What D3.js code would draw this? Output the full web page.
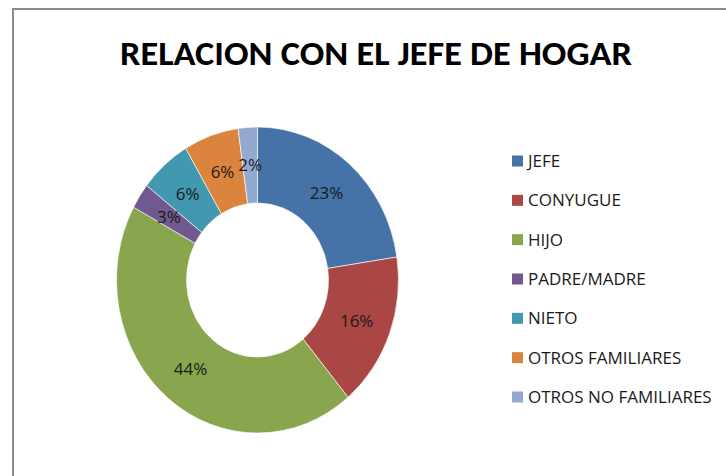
<!DOCTYPE html>
<html>
<head>
<meta charset="utf-8">
<script src="https://cdn.jsdelivr.net/npm/d3@7"></script>
<style>
  body { margin: 0; background: #fff; }
  text { font-family: "Open Sans", "Noto Sans", sans-serif; }
  .ttl { font-family: Carlito, "Open Sans", Lato, sans-serif; }
</style>
</head>
<body>
<svg id="chart"></svg>
<script>
// data
const categories = ["JEFE", "CONYUGUE", "HIJO", "PADRE/MADRE", "NIETO", "OTROS FAMILIARES", "OTROS NO FAMILIARES"];
const shares = [22.6, 16.3, 44.0, 2.7, 5.9, 6.3, 2.2];
const colors = ["#4572a7", "#aa4643", "#89a54e", "#71588f", "#4198af", "#db843d", "#93a9cf"];
const title = "RELACION CON EL JEFE DE HOGAR";

const W = 726, H = 476;
const svg = d3.select("#chart").attr("width", W).attr("height", H);

svg.append("rect").attr("width", W).attr("height", H).attr("fill", "#fff");

// chart frame (cut off at right and bottom)
svg.append("path")
    .attr("d", "M13,480 L13,9 L730,9")
    .attr("fill", "none")
    .attr("stroke", "#8c8c8c")
    .attr("stroke-width", 2);

svg.append("text")
    .attr("class", "ttl")
    .attr("x", 376).attr("y", 65)
    .attr("text-anchor", "middle")
    .attr("font-size", 34)
    .attr("font-weight", "bold")
    .attr("fill", "#000")
    .attr("textLength", 512)
    .attr("lengthAdjust", "spacingAndGlyphs")
    .text(title);

// donut, slightly taller than wide as in the picture
const cx = 257.5, cy = 280, rOut = 141, rIn = 71, sy = 153 / 141;

const pie = d3.pie().sort(null).value(d => d);
const arcs = pie(shares);
const arc = d3.arc().innerRadius(rIn).outerRadius(rOut);
const labelArc = d3.arc().innerRadius((rIn + rOut) / 2).outerRadius((rIn + rOut) / 2);

const g = svg.append("g")
    .attr("transform", "translate(" + cx + "," + cy + ") scale(1," + sy + ")");

g.selectAll("path")
    .data(arcs)
    .enter().append("path")
    .attr("d", arc)
    .attr("fill", (d, i) => colors[i])
    .attr("stroke", "#fff")
    .attr("stroke-width", 0.6);

svg.append("g").selectAll("text")
    .data(arcs)
    .enter().append("text")
    .attr("x", d => cx + labelArc.centroid(d)[0])
    .attr("y", d => cy + labelArc.centroid(d)[1] * sy)
    .attr("dy", "0.36em")
    .attr("text-anchor", "middle")
    .attr("font-size", 17)
    .attr("fill", "#1a1a1a")
    .text(d => Math.round(d.data) + "%");

// legend
const leg = svg.append("g");
const ly = d3.scalePoint().domain(categories).range([161, 397]);

leg.selectAll("rect")
    .data(categories)
    .enter().append("rect")
    .attr("x", 512)
    .attr("y", d => ly(d) - 5.5)
    .attr("width", 11).attr("height", 11)
    .attr("fill", (d, i) => colors[i]);

leg.selectAll("text")
    .data(categories)
    .enter().append("text")
    .attr("x", 528)
    .attr("y", d => ly(d))
    .attr("dy", "0.36em")
    .attr("font-size", 17)
    .attr("fill", "#1a1a1a")
    .text(d => d);
</script>
</body>
</html>
